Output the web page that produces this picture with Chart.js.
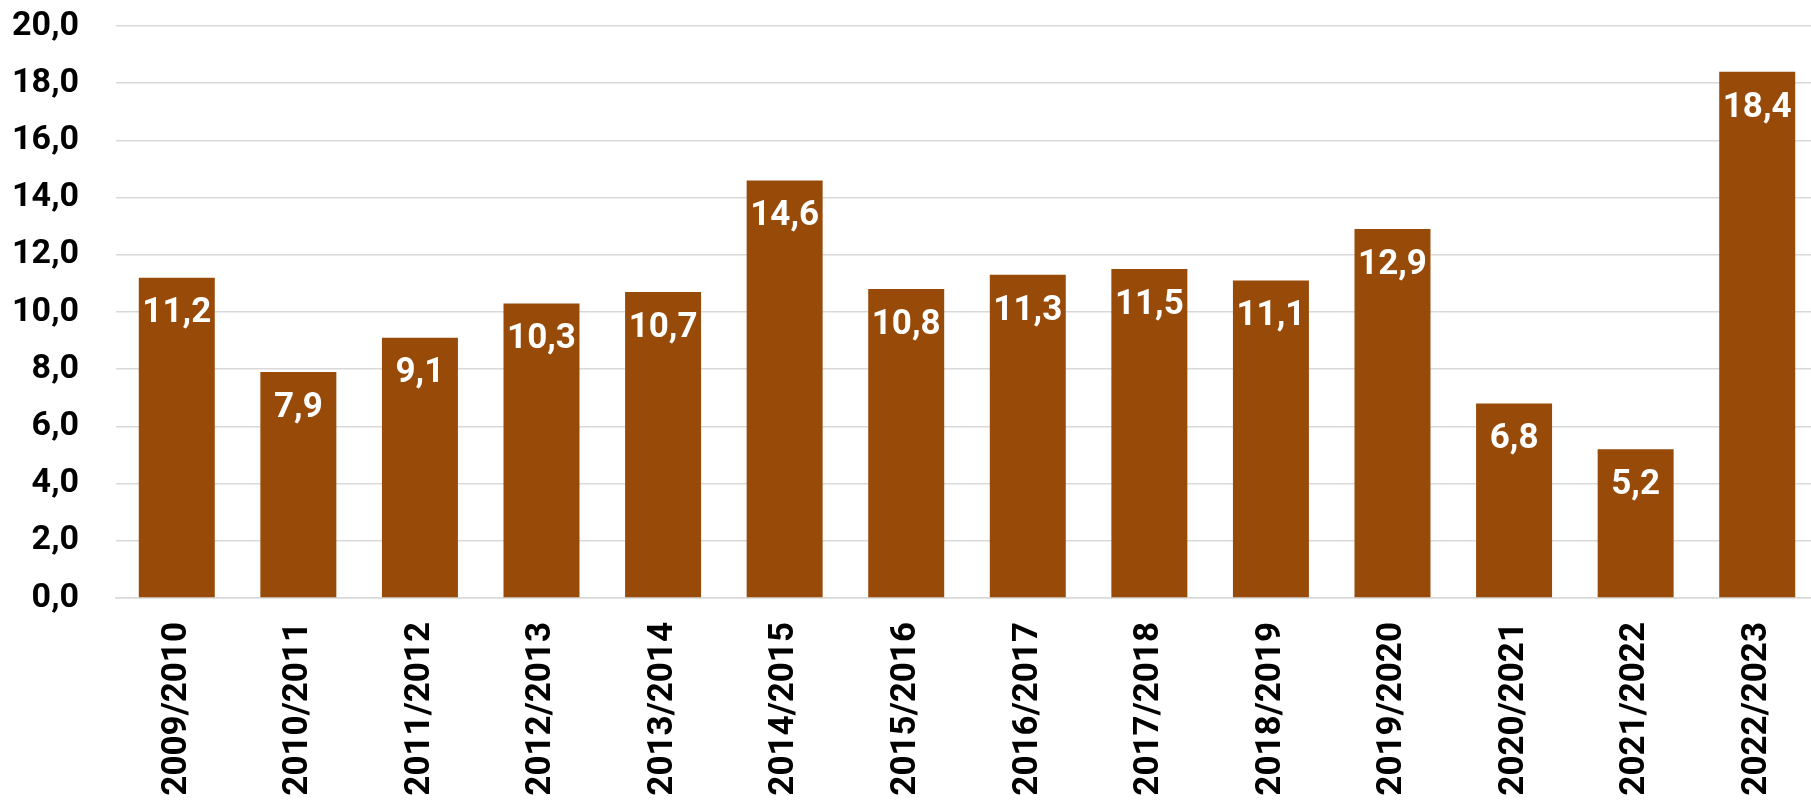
<!DOCTYPE html>
<html>
<head>
<meta charset="utf-8">
<title>Pylväskaavio</title>
<script src="https://cdn.jsdelivr.net/npm/chart.js@4/dist/chart.umd.min.js"></script>
<style>
  body { margin: 0; background: #fff; overflow: hidden; }
  canvas { display: block; }
</style>
</head>
<body>
<!-- Piirtoalue on hieman ikkunaa leveämpi, viimeinen pylväs on lähellä reunaa -->
<canvas id="chart" width="1818" height="800"></canvas>
<script>
// Kaavion data
const seasons = ['2009/2010', '2010/2011', '2011/2012', '2012/2013', '2013/2014', '2014/2015', '2015/2016',
  '2016/2017', '2017/2018', '2018/2019', '2019/2020', '2020/2021', '2021/2022', '2022/2023'];
const values = [11.2, 7.9, 9.1, 10.3, 10.7, 14.6, 10.8, 11.3, 11.5, 11.1, 12.9, 6.8, 5.2, 18.4];
const yTicks = [0, 2, 4, 6, 8, 10, 12, 14, 16, 18, 20];

// Pilkku desimaalierottimena
const fmt = (v) => Number(v).toFixed(1).replace('.', ',');

// Oma pieni plugin joka piirtää arvot pylväiden sisään
const valueLabels = {
  id: 'valueLabels',
  afterDatasetsDraw(chart) {
    const ctx = chart.ctx;
    const meta = chart.getDatasetMeta(0);
    ctx.save();
    ctx.fillStyle = '#ffffff';
    ctx.font = 'bold 35px Roboto';
    ctx.textAlign = 'center';
    ctx.textBaseline = 'middle';
    meta.data.forEach((bar, i) => {
      ctx.fillText(fmt(values[i]), bar.x, bar.y + 36);
    });
    ctx.restore();
  }
};

const ctx = document.getElementById('chart').getContext('2d');
new Chart(ctx, {
  type: 'bar',
  data: {
    labels: seasons,
    datasets: [{
      data: values,
      backgroundColor: '#984a08',
      borderWidth: 0,
      categoryPercentage: 1,
      barPercentage: 0.625
    }]
  },
  options: {
    responsive: false,
    animation: false,
    layout: { padding: 0 },
    plugins: {
      legend: { display: false },
      tooltip: { enabled: false }
    },
    scales: {
      x: {
        grid: { display: false, drawTicks: false },
        border: { color: '#d9d9d9', width: 1.5 },
        ticks: {
          color: '#000',
          font: { family: 'Roboto', size: 35, weight: 'bold' },
          minRotation: 90,
          maxRotation: 90,
          padding: 24
        },
        afterFit: (scale) => {
          scale.height = 202;
          scale.paddingLeft = 0;
          scale.paddingRight = 0;
        }
      },
      y: {
        min: 0,
        max: 20,
        afterBuildTicks: (scale) => { scale.ticks = yTicks.map(v => ({ value: v })); },
        grid: { color: '#d9d9d9', lineWidth: 1.5, drawTicks: false },
        border: { display: false },
        ticks: {
          color: '#000',
          font: { family: 'Roboto', size: 34, weight: 'bold' },
          padding: 37,
          callback: (v) => fmt(v)
        },
        afterFit: (scale) => {
          scale.width = 116;
          // Chart.js antaa tähän liian ison yläreunan
          scale.paddingTop = 26;
          scale.paddingBottom = 0;
        }
      }
    }
  },
  plugins: [valueLabels]
});
</script>
</body>
</html>
